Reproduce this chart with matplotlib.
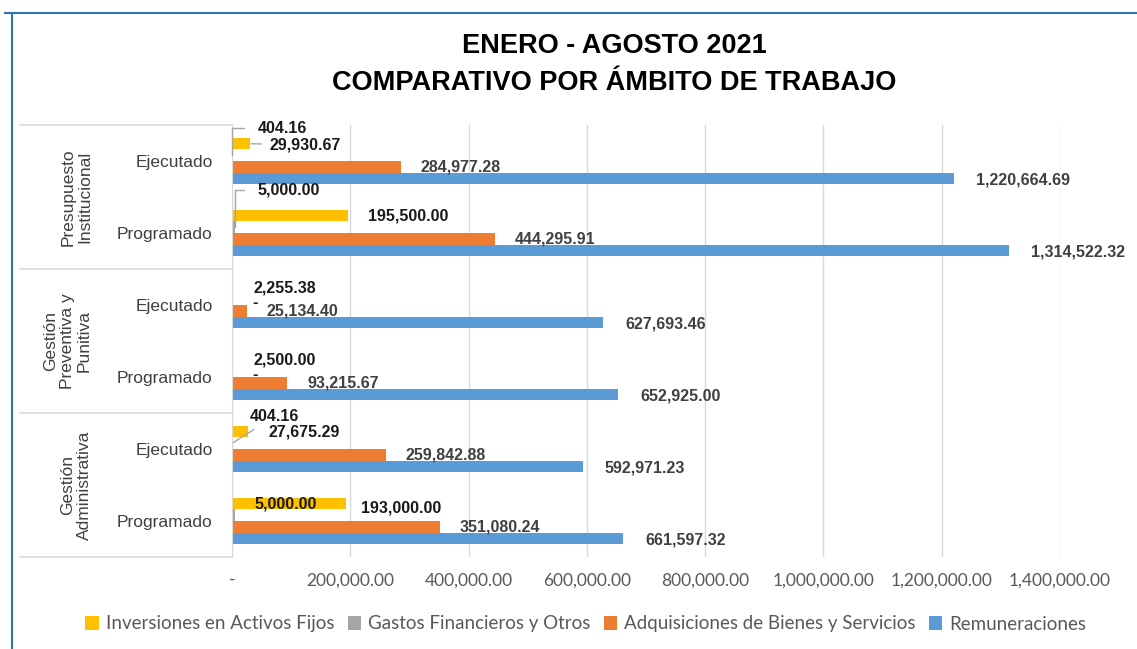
import numpy as np
import matplotlib
matplotlib.use('Agg')
import matplotlib.pyplot as plt
from matplotlib.lines import Line2D

# datos
grupos = ['Presupuesto\nInstitucional', 'Gestión\nPreventiva y\nPunitiva', 'Gestión\nAdministrativa']
filas = ['Ejecutado', 'Programado', 'Ejecutado', 'Programado', 'Ejecutado', 'Programado']
series = ['Inversiones en Activos Fijos', 'Gastos Financieros y Otros',
          'Adquisiciones de Bienes y Servicios', 'Remuneraciones']
inversiones = [29930.67, 195500.00, 2255.38, 2500.00, 27675.29, 193000.00]
gastos = [404.16, 5000.00, 0.0, 0.0, 404.16, 5000.00]
adquisiciones = [284977.28, 444295.91, 25134.40, 93215.67, 259842.88, 351080.24]
remuneraciones = [1220664.69, 1314522.32, 627693.46, 652925.00, 592971.23, 661597.32]
xticks = [0, 200000, 400000, 600000, 800000, 1000000, 1200000, 1400000]

colores = ['#FFC000', '#A5A5A5', '#ED7D31', '#5B9BD5']
arial = ['Liberation Sans', 'DejaVu Sans']
sans = ['Lato', 'DejaVu Sans']

# desplazamientos de etiquetas en pixeles (serie, fila) -> (dx, dy, guia)
ajustes = {
    (1, 0): (26, 27, 'angle'),
    (0, 0): (20, -1, 'line'),
    (1, 1): (23, 37, 'angle'),
    (1, 2): (20, -3, None),
    (1, 3): (20, -3, None),
    (1, 4): (18, 27, 'line'),
    (1, 5): (20, 11, None),
    (0, 5): (15, -4, None),
}

fig = plt.figure(figsize=(11.37, 6.49), dpi=100)
W, H = 1137, 649
x0, x1, ytop, ybot = 232, 1060, 125, 557
ax = fig.add_axes([x0 / W, 1 - ybot / H, (x1 - x0) / W, (ybot - ytop) / H])

y = np.arange(len(filas))
h = 0.16
datos = [inversiones, gastos, adquisiciones, remuneraciones]
for i, vals in enumerate(datos):
    pos = y + (i - 1.5) * h
    ax.barh(pos, vals, height=h, color=colores[i], label=series[i], zorder=3)
    for j, v in enumerate(vals):
        txt = '-' if v == 0 else f'{v:,.2f}'
        dx, dy, guia = ajustes.get((i, j), (20, 0, None))
        if i == 3:
            dx, dy = 22, -2
        col = '#1A1A1A' if i < 2 else '#404040'
        ap = None
        if guia == 'angle':
            ap = dict(arrowstyle='-', color='#A6A6A6', lw=1,
                      connectionstyle='angle,angleA=0,angleB=90,rad=0',
                      shrinkA=8, shrinkB=0)
        elif guia == 'line':
            ap = dict(arrowstyle='-', color='#A6A6A6', lw=1, shrinkA=4, shrinkB=1)
        ax.annotate(txt, xy=(v, pos[j]), xytext=(dx, dy), textcoords='offset pixels',
                    ha='left', va='center', fontsize=11.5, fontweight='bold',
                    color=col, family=arial, arrowprops=ap, zorder=5)

# pequeña guia del 5,000.00 de Gestión Administrativa
ax.plot([0, 0], [5 - 1.5 * h, 5 - 0.5 * h], color='#A6A6A6', lw=1.5, zorder=4)

ax.set_xlim(0, 1400000)
ax.set_ylim(len(filas) - 0.5, -0.5)
ax.set_xticks(xticks)
ax.set_xticklabels(['-' if t == 0 else f'{t:,.2f}' for t in xticks],
                   fontsize=12.5, color='#595959', family=sans)
ax.set_yticks(y)
ax.set_yticklabels(filas, fontsize=12.5, color='#404040', family=arial)
ax.tick_params(axis='x', length=0, pad=11)
ax.tick_params(axis='y', length=0, pad=14)
ax.grid(axis='x', color='#D9D9D9', lw=1, zorder=0)
for s in ['top', 'right', 'bottom']:
    ax.spines[s].set_visible(False)
ax.spines['left'].set_color('#D9D9D9')
ax.spines['left'].set_zorder(4)

# caja de categorias
xl = (20 - x0) / (x1 - x0)
tr = ax.get_yaxis_transform()
for yy in [-0.5, 1.5, 3.5, 5.5]:
    ax.plot([xl, 0], [yy, yy], transform=tr, color='#D9D9D9', lw=1.2, clip_on=False)
for k, g in enumerate(grupos):
    ax.text((92 - x0) / (x1 - x0), 2 * k + 0.5, g, transform=tr, rotation=90,
            ha='right', va='center', multialignment='center',
            fontsize=12.5, color='#404040', family=arial, linespacing=1.15)

fig.text(614 / W, 1 - 46 / H, 'ENERO - AGOSTO 2021', ha='center', va='center',
         fontsize=19.5, fontweight='bold', family=arial, color='#000000')
fig.text(614 / W, 1 - 83 / H, 'COMPARATIVO POR ÁMBITO DE TRABAJO', ha='center', va='center',
         fontsize=19.5, fontweight='bold', family=arial, color='#000000')

leg = fig.legend(loc='center', bbox_to_anchor=(586 / W, 1 - 624 / H), ncol=4,
                 frameon=False, handlelength=0.7, handleheight=0.7, handletextpad=0.4,
                 columnspacing=0.7, prop={'family': sans, 'size': 13.5})
for t in leg.get_texts():
    t.set_color('#595959')

# marco
fig.add_artist(Line2D([5 / W, 1], [1 - 12.5 / H, 1 - 12.5 / H], color='#2E75B6', lw=1.5))
fig.add_artist(Line2D([11.5 / W, 11.5 / W], [0, 1 - 12.5 / H], color='#2E75B6', lw=1.5))

fig.savefig('out.png', dpi=100)
